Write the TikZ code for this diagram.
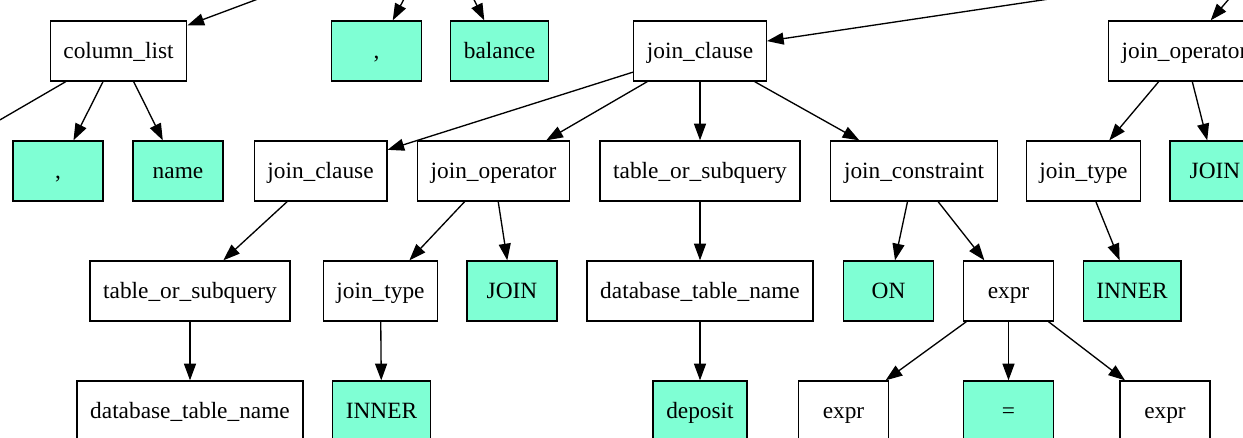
\documentclass[tikz,border=0pt]{standalone}
\usepackage{fontspec}
\setmainfont{Liberation Serif}
\usepackage{tikz}
\usetikzlibrary{arrows.meta}
\definecolor{termfill}{HTML}{7FFFD4}

\tikzset{
  rule/.style={draw=black, line width=1pt, rectangle, minimum width=67.5pt,
    minimum height=45pt, inner xsep=9.9pt, text height=13pt, text depth=2pt,
    font=\fontsize{17.5}{20}\selectfont},
  term/.style={rule, fill=termfill},
  edge/.style={line width=1pt, -{Triangle[length=12.5pt,width=9pt]}}
}

\begin{document}
\begin{tikzpicture}[x=0.75pt,y=0.75pt,yscale=-1,xscale=1]
\useasboundingbox (0,0) rectangle (1243,437);
\clip (0,0) rectangle (1243,437);

% parents above / beside the frame
\coordinate (sel) at (440,-69);
\coordinate (jc0) at (1505,-69);
\coordinate (jc0b) at (1287,-69);
\coordinate (cl0) at (-88,171);

% row 1
\node [rule] (cl) at (118.5,51) {column\_list};
\node [term] (cm1) at (376.5,51) {,};
\node [term] (bal) at (499.5,51) {balance};
\node [rule] (jc1) at (700,51) {join\_clause};
\node [rule] (jo1) at (1184.5,51) {join\_operator};

% row 2
\node [term] (cm2) at (58,171) {,};
\node [term] (nm) at (178,171) {name};
\node [rule] (jc2) at (320.5,171) {join\_clause};
\node [rule] (jo2) at (493.5,171) {join\_operator};
\node [rule] (tos1) at (700,171) {table\_or\_subquery};
\node [rule] (jcon) at (914,171) {join\_constraint};
\node [rule] (jt1) at (1083.5,171) {join\_type};
\node [term] (jn1) at (1215,171) {JOIN};

% row 3
\node [rule] (tos2) at (190,291) {table\_or\_subquery};
\node [rule] (jt2) at (380.5,291) {join\_type};
\node [term] (jn2) at (512,291) {JOIN};
\node [rule] (dtn1) at (700,291) {database\_table\_name};
\node [term] (on) at (888.5,291) {ON};
\node [rule] (ex) at (1008.5,291) {expr};
\node [term] (inr1) at (1132,291) {INNER};

% row 4
\node [rule] (dtn2) at (190,411) {database\_table\_name};
\node [term] (inr2) at (381.5,411) {INNER};
\node [term] (dep) at (700,411) {deposit};
\node [rule] (exl) at (843.5,411) {expr};
\node [term] (eq) at (1008.5,411) {=};
\node [rule] (exr) at (1165,411) {expr};

% edges
\draw [edge] (sel) -- (cl);
\draw [edge] (sel) -- (cm1);
\draw [edge] (sel) -- (bal);
\draw [edge] (jc0) -- (jc1);
\draw [edge] (jc0b) -- (jo1);
\draw [edge] (cl) -- (cl0);
\draw [edge] (cl) -- (cm2);
\draw [edge] (cl) -- (nm);
\draw [edge] (jc1) -- (jc2);
\draw [edge] (jc1) -- (jo2);
\draw [edge] (jc1) -- (tos1);
\draw [edge] (jc1) -- (jcon);
\draw [edge] (jo1) -- (jt1);
\draw [edge] (jo1) -- (jn1);
\draw [edge] (jc2) -- (tos2);
\draw [edge] (jo2) -- (jt2);
\draw [edge] (jo2) -- (jn2);
\draw [edge] (tos1) -- (dtn1);
\draw [edge] (jcon) -- (on);
\draw [edge] (jcon) -- (ex);
\draw [edge] (jt1) -- (inr1);
\draw [edge] (tos2) -- (dtn2);
\draw [edge] (jt2) -- (inr2);
\draw [edge] (dtn1) -- (dep);
\draw [edge] (ex) -- (exl);
\draw [edge] (ex) -- (eq);
\draw [edge] (ex) -- (exr);

\end{tikzpicture}
\end{document}
